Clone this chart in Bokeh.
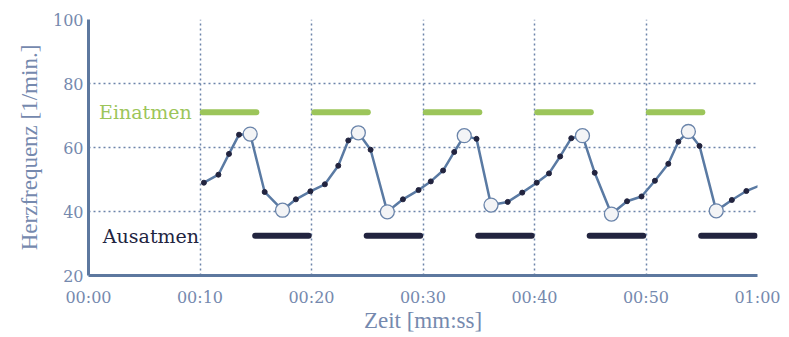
from bokeh.plotting import figure
from bokeh.models import Range1d, FixedTicker, ColumnDataSource
from bokeh.core.properties import value
from bokeh.embed import file_html
from bokeh.resources import INLINE

# ---- data ----
t_vals = [10.35, 11.65, 12.6, 13.5, 14.5, 15.8, 17.4, 18.6, 19.9,
          21.2, 22.4, 23.3, 24.2, 25.3, 26.8, 28.2, 29.6,
          30.7, 31.8, 32.8, 33.7, 34.8, 36.1, 37.6, 38.9,
          40.2, 41.3, 42.3, 43.3, 44.3, 45.4, 46.9, 48.3, 49.6,
          50.8, 52.0, 52.9, 53.8, 54.8, 56.3, 57.7, 59.0, 60.4]
hr_vals = [49.0, 51.5, 58.0, 64.0, 64.2, 46.1, 40.4, 43.8, 46.3,
           48.5, 54.3, 62.2, 64.6, 59.3, 39.9, 43.8, 46.7,
           49.4, 52.8, 58.6, 63.7, 62.7, 42.0, 43.0, 45.9,
           49.0, 51.9, 57.2, 62.9, 63.7, 52.1, 39.2, 43.2, 44.7,
           49.6, 54.9, 61.8, 65.0, 60.5, 40.2, 43.6, 46.4, 48.4]
is_extreme = [False, False, False, False, True, False, True, False, False,
              False, False, False, True, False, True, False, False,
              False, False, False, True, False, True, False, False,
              False, False, False, False, True, False, True, False, False,
              False, False, False, True, False, True, False, False, False]

insp_start = [10.25, 20.25, 30.25, 40.25, 50.25]
insp_end = [15.05, 25.05, 35.05, 45.05, 55.05]
insp_level = 71.0
exp_start = [14.95, 24.95, 34.95, 44.95, 54.95]
exp_end = [19.75, 29.75, 39.75, 49.75, 59.75]
exp_level = 32.4

x_ticks = [0, 10, 20, 30, 40, 50, 60]
x_tick_labels = ["00:00", "00:10", "00:20", "00:30", "00:40", "00:50", "01:00"]
y_ticks = [20, 40, 60, 80, 100]

phase_labels = ["Einatmen", "Ausatmen"]
phase_label_x = [5.1, 5.6]

# ---- styles ----
TICK_FONT = "DejaVu Serif"
LABEL_FONT = "Liberation Serif"
AXIS_COL = "#5d789f"
TEXT_COL = "#7589ae"
GRID_COL = "#6d84aa"
LINE_COL = "#5a7aa3"
GREEN = "#9cc55a"
DARK = "#22243f"

p = figure(width=789, height=337, x_range=Range1d(0, 60), y_range=Range1d(20, 100),
           output_backend="svg", toolbar_location=None,
           min_border_left=88, min_border_right=32, min_border_top=19, min_border_bottom=62)
p.outline_line_color = None
p.background_fill_color = "white"
p.border_fill_color = "white"

# axes
for ax in (p.xaxis, p.yaxis):
    ax.axis_line_color = AXIS_COL
    ax.axis_line_width = 3
    ax.major_tick_line_color = None
    ax.minor_tick_line_color = None
    ax.major_tick_out = 0
    ax.major_tick_in = 0
    ax.major_label_text_font = TICK_FONT
    ax.major_label_text_color = TEXT_COL
    ax.major_label_text_font_size = "16px"
    ax.major_label_text_font_style = "normal"
    ax.axis_label_text_font = LABEL_FONT
    ax.axis_label_text_color = TEXT_COL
    ax.axis_label_text_font_size = "23px"
    ax.axis_label_text_font_style = "normal"

p.xaxis.ticker = FixedTicker(ticks=x_ticks)
p.xaxis.major_label_overrides = {t: l for t, l in zip(x_ticks, x_tick_labels)}
p.xaxis.major_label_standoff = 12
p.xaxis.axis_label = "Zeit [mm:ss]"
p.xaxis.axis_label_standoff = -2

p.yaxis.ticker = FixedTicker(ticks=y_ticks)
p.yaxis.major_label_standoff = 5
p.yaxis.axis_label = "Herzfrequenz [1/min.]"
p.yaxis.axis_label_standoff = 8

# grid
p.xgrid.ticker = FixedTicker(ticks=x_ticks)
p.ygrid.ticker = FixedTicker(ticks=y_ticks)
for g in (p.xgrid, p.ygrid):
    g.grid_line_color = GRID_COL
    g.grid_line_width = 1.5
    g.grid_line_dash = "2 3"

# phase bars
p.segment(x0=insp_start, x1=insp_end, y0=[insp_level] * len(insp_start), y1=[insp_level] * len(insp_start),
          line_color=GREEN, line_width=6, line_cap="round")
p.segment(x0=exp_start, x1=exp_end, y0=[exp_level] * len(exp_start), y1=[exp_level] * len(exp_start),
          line_color=DARK, line_width=6, line_cap="round")

# phase labels
p.text(x=[phase_label_x[0]], y=[insp_level], text=[phase_labels[0]], text_color=GREEN,
       text_font=value(TICK_FONT), text_font_style="normal",
       text_font_size="19px", text_align="center", text_baseline="middle")
p.text(x=[phase_label_x[1]], y=[exp_level], text=[phase_labels[1]], text_color=DARK,
       text_font=value(TICK_FONT), text_font_style="normal",
       text_font_size="19px", text_align="center", text_baseline="middle")

# heart-rate line
src = ColumnDataSource(dict(t=t_vals, hr=hr_vals))
p.line("t", "hr", source=src, line_color=LINE_COL, line_width=2.5)
small_t = [t for t, e in zip(t_vals, is_extreme) if not e]
small_h = [h for h, e in zip(hr_vals, is_extreme) if not e]
big_t = [t for t, e in zip(t_vals, is_extreme) if e]
big_h = [h for h, e in zip(hr_vals, is_extreme) if e]
p.scatter(small_t, small_h, size=5, fill_color=DARK, line_color=DARK)
p.scatter(big_t, big_h, size=14, fill_color="#f3f4f6", line_color="#6a84aa", line_width=1.3)

open("out.html", "w").write(file_html(p, INLINE))
